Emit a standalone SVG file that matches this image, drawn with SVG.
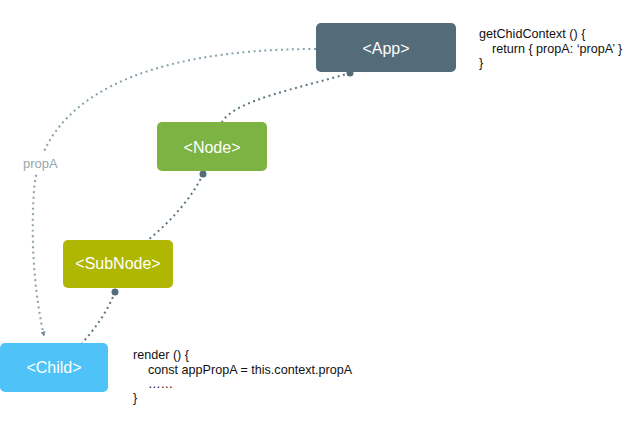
<svg xmlns="http://www.w3.org/2000/svg" width="637" height="421" viewBox="0 0 637 421">
<style>
.node-label{font-family:"Liberation Sans",Arial,sans-serif;font-size:16px;fill:#ffffff;text-anchor:middle}
.code{font-family:"Liberation Sans",Arial,sans-serif;font-size:12.6px;fill:#111111}
.link{fill:none;stroke:#5d7684;stroke-width:2;stroke-dasharray:2 3.5}
.prop{fill:none;stroke:#8aa0ab;stroke-width:2;stroke-dasharray:2 3.5}
.dot{fill:#546b79}
</style>
<defs>
<marker id="arrow" viewBox="0 0 10 10" refX="9" refY="5" markerWidth="5" markerHeight="5" orient="auto" markerUnits="userSpaceOnUse">
<path d="M0,0 L10,5 L0,10 Z" fill="#7a919c"/>
</marker>
</defs>
<rect width="637" height="421" fill="#ffffff"/>
<g id="connectors">
<path class="prop" d="M316,49 C140,49 42,100 34,190 C30,250 36,300 44,336" marker-end="url(#arrow)"/>
<rect x="20" y="152" width="42" height="20" fill="#ffffff"/>
<text x="23" y="168" style="font-family:'Liberation Sans',Arial,sans-serif;font-size:13px;fill:#9aa6ab">propA</text>
<path class="link" d="M350,73 C300,88 235,100 222,122"/>
<path class="link" d="M203,174 C192,198 170,222 148,240"/>
<path class="link" d="M115,292 C108,310 96,328 82,343"/>
<circle class="dot" cx="350" cy="73" r="3.5"/>
<circle class="dot" cx="203" cy="174" r="3.5"/>
<circle class="dot" cx="115" cy="292" r="3.5"/>
</g>
<g id="app">
<rect x="316" y="23" width="140" height="49" rx="5" fill="#546b79"/>
<text class="node-label" x="386" y="54">&lt;App&gt;</text>
</g>
<g id="node">
<rect x="157" y="122" width="110" height="49" rx="5" fill="#7cb342"/>
<text class="node-label" x="212" y="153">&lt;Node&gt;</text>
</g>
<g id="subnode">
<rect x="63" y="240" width="110" height="48" rx="5" fill="#b0b702"/>
<text class="node-label" x="118" y="269">&lt;SubNode&gt;</text>
</g>
<g id="child">
<rect x="0" y="343" width="108" height="49" rx="5" fill="#4fc3f7"/>
<text class="node-label" x="54" y="373">&lt;Child&gt;</text>
</g>
<g id="app-code">
<text class="code" x="479" y="38">getChidContext () {</text>
<text class="code" x="492" y="53">return { propA: ‘propA’ }</text>
<text class="code" x="479" y="67">}</text>
</g>
<g id="child-code">
<text class="code" x="133" y="359">render () {</text>
<text class="code" x="148" y="374">const appPropA = this.context.propA</text>
<text class="code" x="148" y="388">……</text>
<text class="code" x="133" y="402">}</text>
</g>
</svg>
